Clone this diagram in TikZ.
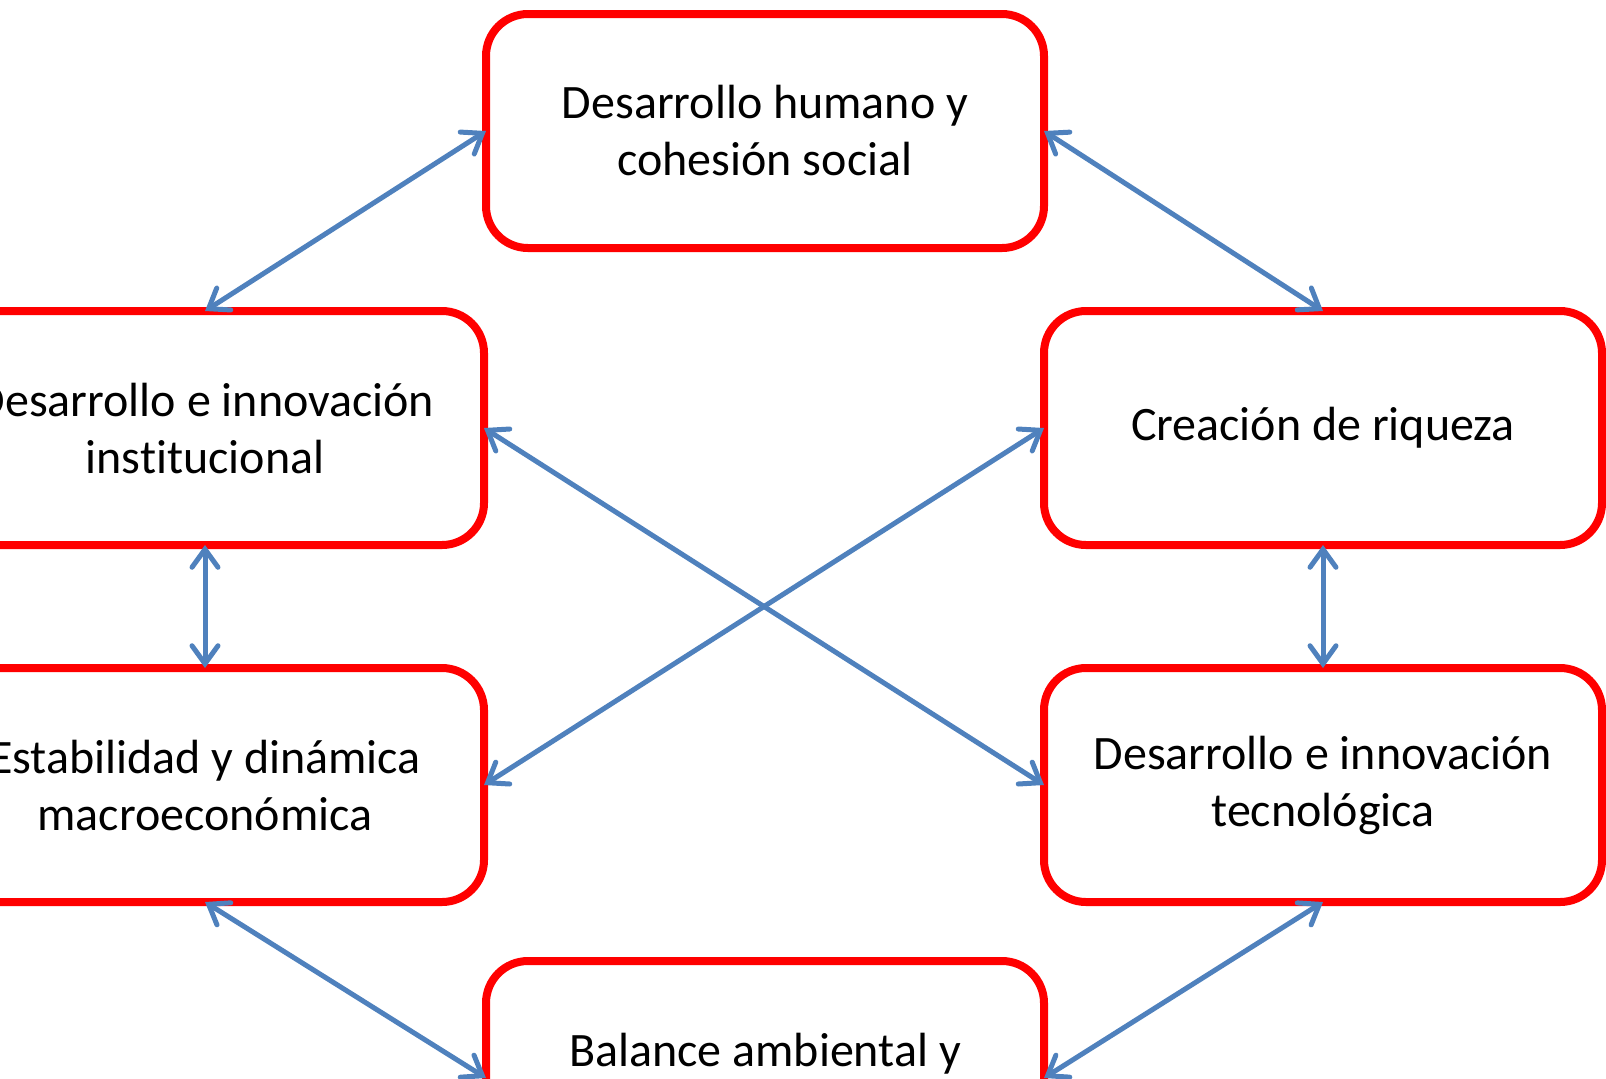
\documentclass[tikz,border=0pt]{standalone}
\usepackage{fontspec}
\setmainfont[Ligatures={NoCommon,NoContextual}]{Carlito}
\usetikzlibrary{arrows.meta}
\definecolor{relblue}{HTML}{4F81BD}

\begin{document}
\begin{tikzpicture}
  [x=0.5pt, y=-0.5pt,
   eje/.style={draw=red, line width=4pt, rounded corners=21pt, fill=white,
     align=center, minimum width=279pt, minimum height=117pt, inner sep=0pt,
     outer sep=0pt, font=\fontsize{24}{28.5}\selectfont},
   rel/.style={draw=relblue, line width=2.5pt,
     {Straight Barb[length=9pt,width=13pt,line cap=round]}-{Straight Barb[length=9pt,width=13pt,line cap=round]}}]
  \useasboundingbox (0,0) rectangle (1606,1078);
  % ejes
  \node[eje] (humano)   at (765,131)  {Desarrollo humano y\\cohesión social};
  \node[eje] (instit)   at (205,428)  {Desarrollo e innovación\\institucional};
  \node[eje] (riqueza)  at (1323,428) {Creación de riqueza};
  \node[eje] (macro)    at (205,785)  {Estabilidad y dinámica\\macroeconómica};
  \node[eje] (tecno)    at (1323,785) {Desarrollo e innovación\\tecnológica};
  \node[eje] (ambiente) at (765,1078) {Balance ambiental y\\\mbox{}};
  % relaciones
  \draw[rel] (humano.west) -- (instit.north);
  \draw[rel] (humano.east) -- (riqueza.north);
  \draw[rel] (instit.south) -- (macro.north);
  \draw[rel] (riqueza.south) -- (tecno.north);
  \draw[rel] (instit.east) -- (tecno.west);
  \draw[rel] (riqueza.west) -- (macro.east);
  \draw[rel] (macro.south) -- (ambiente.west);
  \draw[rel] (tecno.south) -- (ambiente.east);
\end{tikzpicture}
\end{document}
